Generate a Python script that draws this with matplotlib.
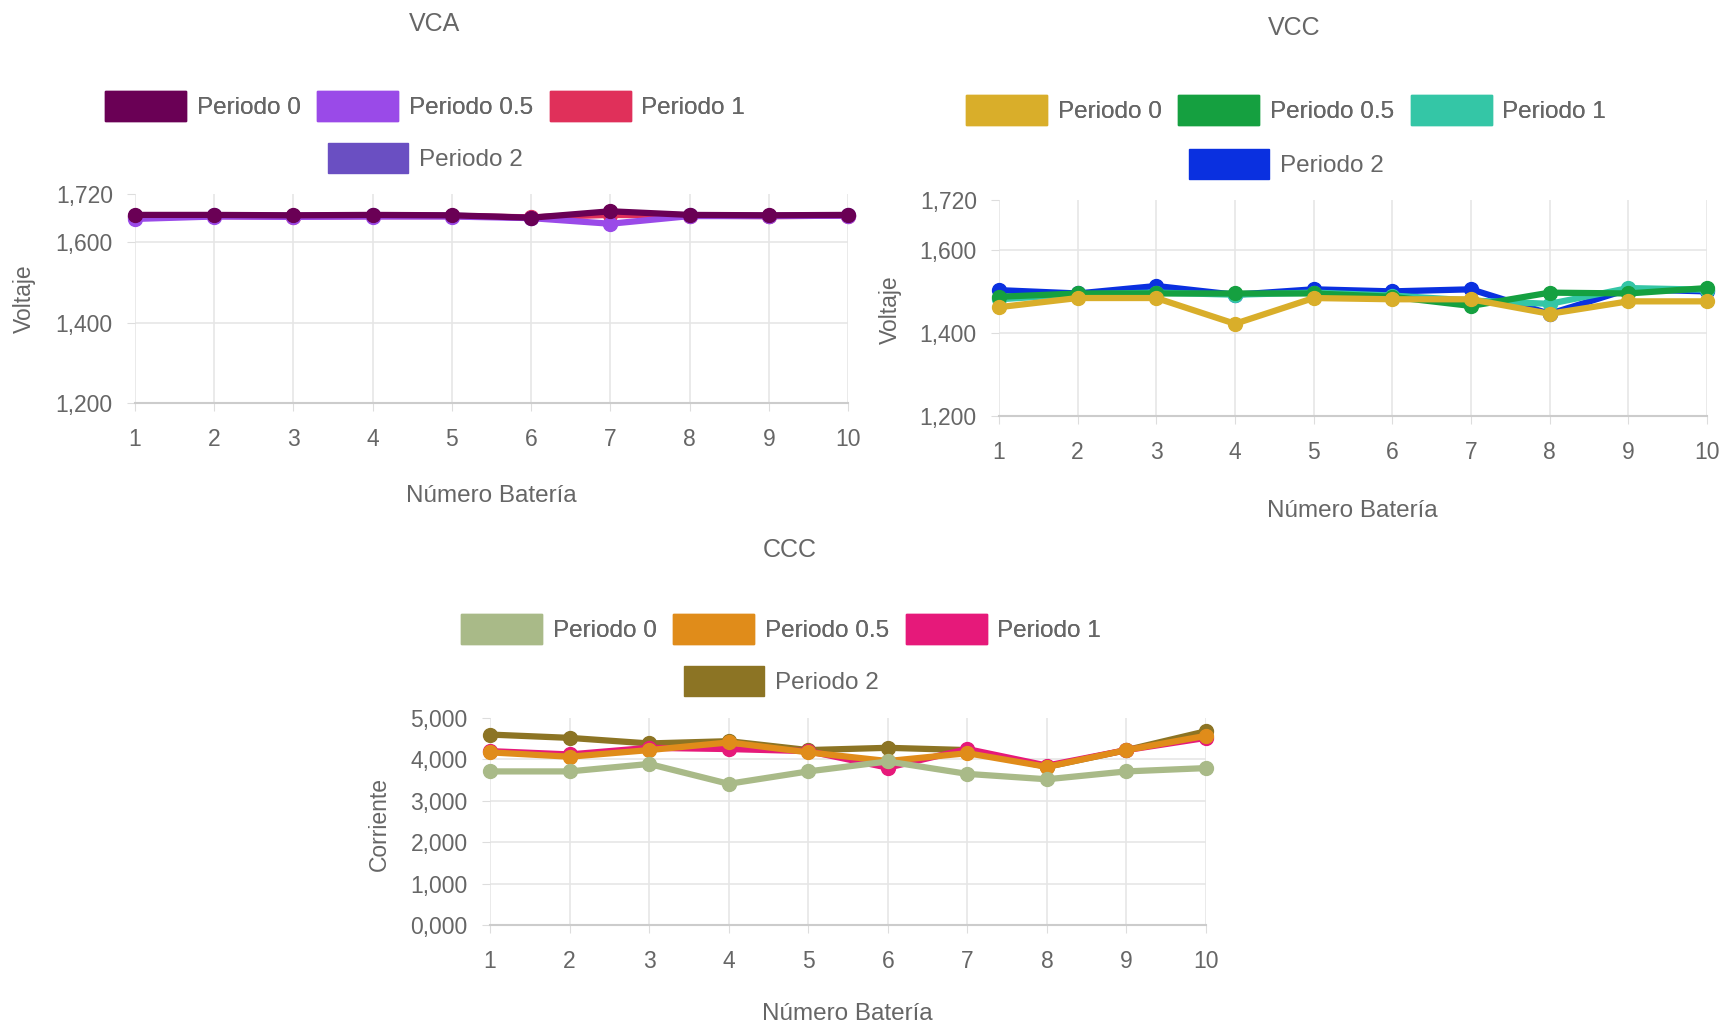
import matplotlib
matplotlib.use("Agg")
import matplotlib.pyplot as plt
from matplotlib.patches import Patch
from matplotlib import font_manager

# ---------------- data ----------------
baterias = [1, 2, 3, 4, 5, 6, 7, 8, 9, 10]
periodos = ["Periodo 0", "Periodo 0.5", "Periodo 1", "Periodo 2"]

vca_p0 = [1668, 1668, 1667, 1668, 1667, 1661, 1677, 1668, 1667, 1668]
vca_p05 = [1658, 1664, 1663, 1664, 1664, 1660, 1646, 1665, 1665, 1666]
vca_p1 = [1662, 1665, 1664, 1665, 1665, 1662, 1668, 1666, 1665, 1666]
vca_p2 = [1665, 1667, 1666, 1667, 1666, 1661, 1672, 1667, 1666, 1667]

vcc_p0 = [1462, 1484, 1484, 1422, 1484, 1481, 1481, 1446, 1476, 1476]
vcc_p05 = [1487, 1495, 1495, 1495, 1495, 1487, 1465, 1497, 1495, 1508]
vcc_p1 = [1481, 1493, 1497, 1492, 1497, 1490, 1478, 1470, 1508, 1504]
vcc_p2 = [1503, 1495, 1513, 1492, 1505, 1500, 1505, 1446, 1505, 1500]

ccc_p0 = [3710, 3710, 3890, 3410, 3710, 3950, 3650, 3520, 3710, 3790]
ccc_p05 = [4170, 4065, 4225, 4410, 4170, 3960, 4150, 3820, 4225, 4570]
ccc_p1 = [4200, 4120, 4280, 4250, 4200, 3800, 4250, 3850, 4225, 4520]
ccc_p2 = [4600, 4520, 4385, 4440, 4225, 4280, 4225, 3820, 4225, 4680]

vca_ticks = [1200, 1400, 1600, 1720]
vcc_ticks = [1200, 1400, 1600, 1720]
ccc_ticks = [0, 1000, 2000, 3000, 4000, 5000]

vca_colors = ["#6a0055", "#9a4ae8", "#e0305a", "#6a4fc2"]
vcc_colors = ["#d9ae2a", "#15a040", "#34c6a6", "#0a30e0"]
ccc_colors = ["#a9ba88", "#e08c1a", "#e6197a", "#8c7424"]

# ---------------- style ----------------
avail = {f.name for f in font_manager.fontManager.ttflist}
narrow = "Liberation Sans Narrow" if "Liberation Sans Narrow" in avail else "Liberation Sans"
TXT = "#666666"
W, H = 1734, 1031
fig = plt.figure(figsize=(W / 100, H / 100), dpi=100)


def make(box, series, colors, ticks, ylim, ylab, title, tpos, leg_c, rows_y, xlab_pos, ylab_pos):
    l, t, r, b = box
    ax = fig.add_axes([l / W, 1 - b / H, (r - l) / W, (b - t) / H])
    # first dataset drawn last (on top), as in the reference
    for vals, c, name in list(zip(series, colors, periodos))[::-1]:
        ax.plot(baterias, vals, color=c, lw=4.5, marker="o", ms=10, label=name,
                solid_joinstyle="round", clip_on=False)
    ax.set_xlim(1, 10)
    ax.set_ylim(*ylim)
    ax.set_xticks(baterias)
    ax.set_yticks(ticks)
    ax.set_yticklabels([f"{v // 1000},{v % 1000:03d}" for v in ticks])
    ax.tick_params(axis="both", colors="#dddddd", labelcolor=TXT, labelsize=16.5, length=6)
    ax.tick_params(axis="x", pad=12)
    ax.tick_params(axis="y", pad=10)
    for lab in ax.get_xticklabels() + ax.get_yticklabels():
        lab.set_family(narrow)
    ax.grid(True, color="#e6e6e6", lw=1.2)
    ax.set_axisbelow(True)
    ax.get_ygridlines()[-1].set_visible(False)
    for s in ["top", "right", "left"]:
        ax.spines[s].set_visible(False)
    ax.spines["bottom"].set_color("#cccccc")
    ax.spines["bottom"].set_linewidth(1.5)

    fig.text(tpos[0] / W, 1 - tpos[1] / H, title, ha="center", va="center",
             fontsize=18, color=TXT, family=narrow)
    fig.text(xlab_pos[0] / W, 1 - xlab_pos[1] / H, "Número Batería", ha="center", va="center",
             fontsize=17.5, color=TXT, family=narrow)
    fig.text(ylab_pos[0] / W, 1 - ylab_pos[1] / H, ylab, ha="center", va="center",
             rotation=90, fontsize=16.5, color=TXT, family="Liberation Sans")

    handles = [Patch(facecolor=c, edgecolor=c) for c in colors]
    common = dict(frameon=False, handlelength=3.33, handleheight=1.48,
                  handletextpad=0.42, columnspacing=0.7, labelcolor=TXT,
                  prop={"family": narrow, "size": 17.5}, loc="center", borderpad=0)
    lg1 = fig.legend(handles[:3], periodos[:3], ncol=3,
                     bbox_to_anchor=(leg_c / W, 1 - rows_y[0] / H), **common)
    fig.legend(handles[3:], periodos[3:], ncol=1,
               bbox_to_anchor=(leg_c / W, 1 - rows_y[1] / H), **common)
    fig.add_artist(lg1)
    return ax


make((135, 194, 848, 403), [vca_p0, vca_p05, vca_p1, vca_p2], vca_colors, vca_ticks,
     (1200, 1720), "Voltaje", "VCA", (435, 24), 425, (106, 158), (491, 496), (24, 299))
make((999, 200, 1707, 416), [vcc_p0, vcc_p05, vcc_p1, vcc_p2], vcc_colors, vcc_ticks,
     (1200, 1720), "Voltaje", "VCC", (1294, 28), 1286, (110, 164), (1352, 511), (890, 310))
make((490, 718, 1206, 925), [ccc_p0, ccc_p05, ccc_p1, ccc_p2], ccc_colors, ccc_ticks,
     (0, 5000), "Corriente", "CCC", (790, 550), 781, (629, 681), (847, 1014), (379, 824))

fig.savefig("out.png", dpi=100, facecolor="white")
